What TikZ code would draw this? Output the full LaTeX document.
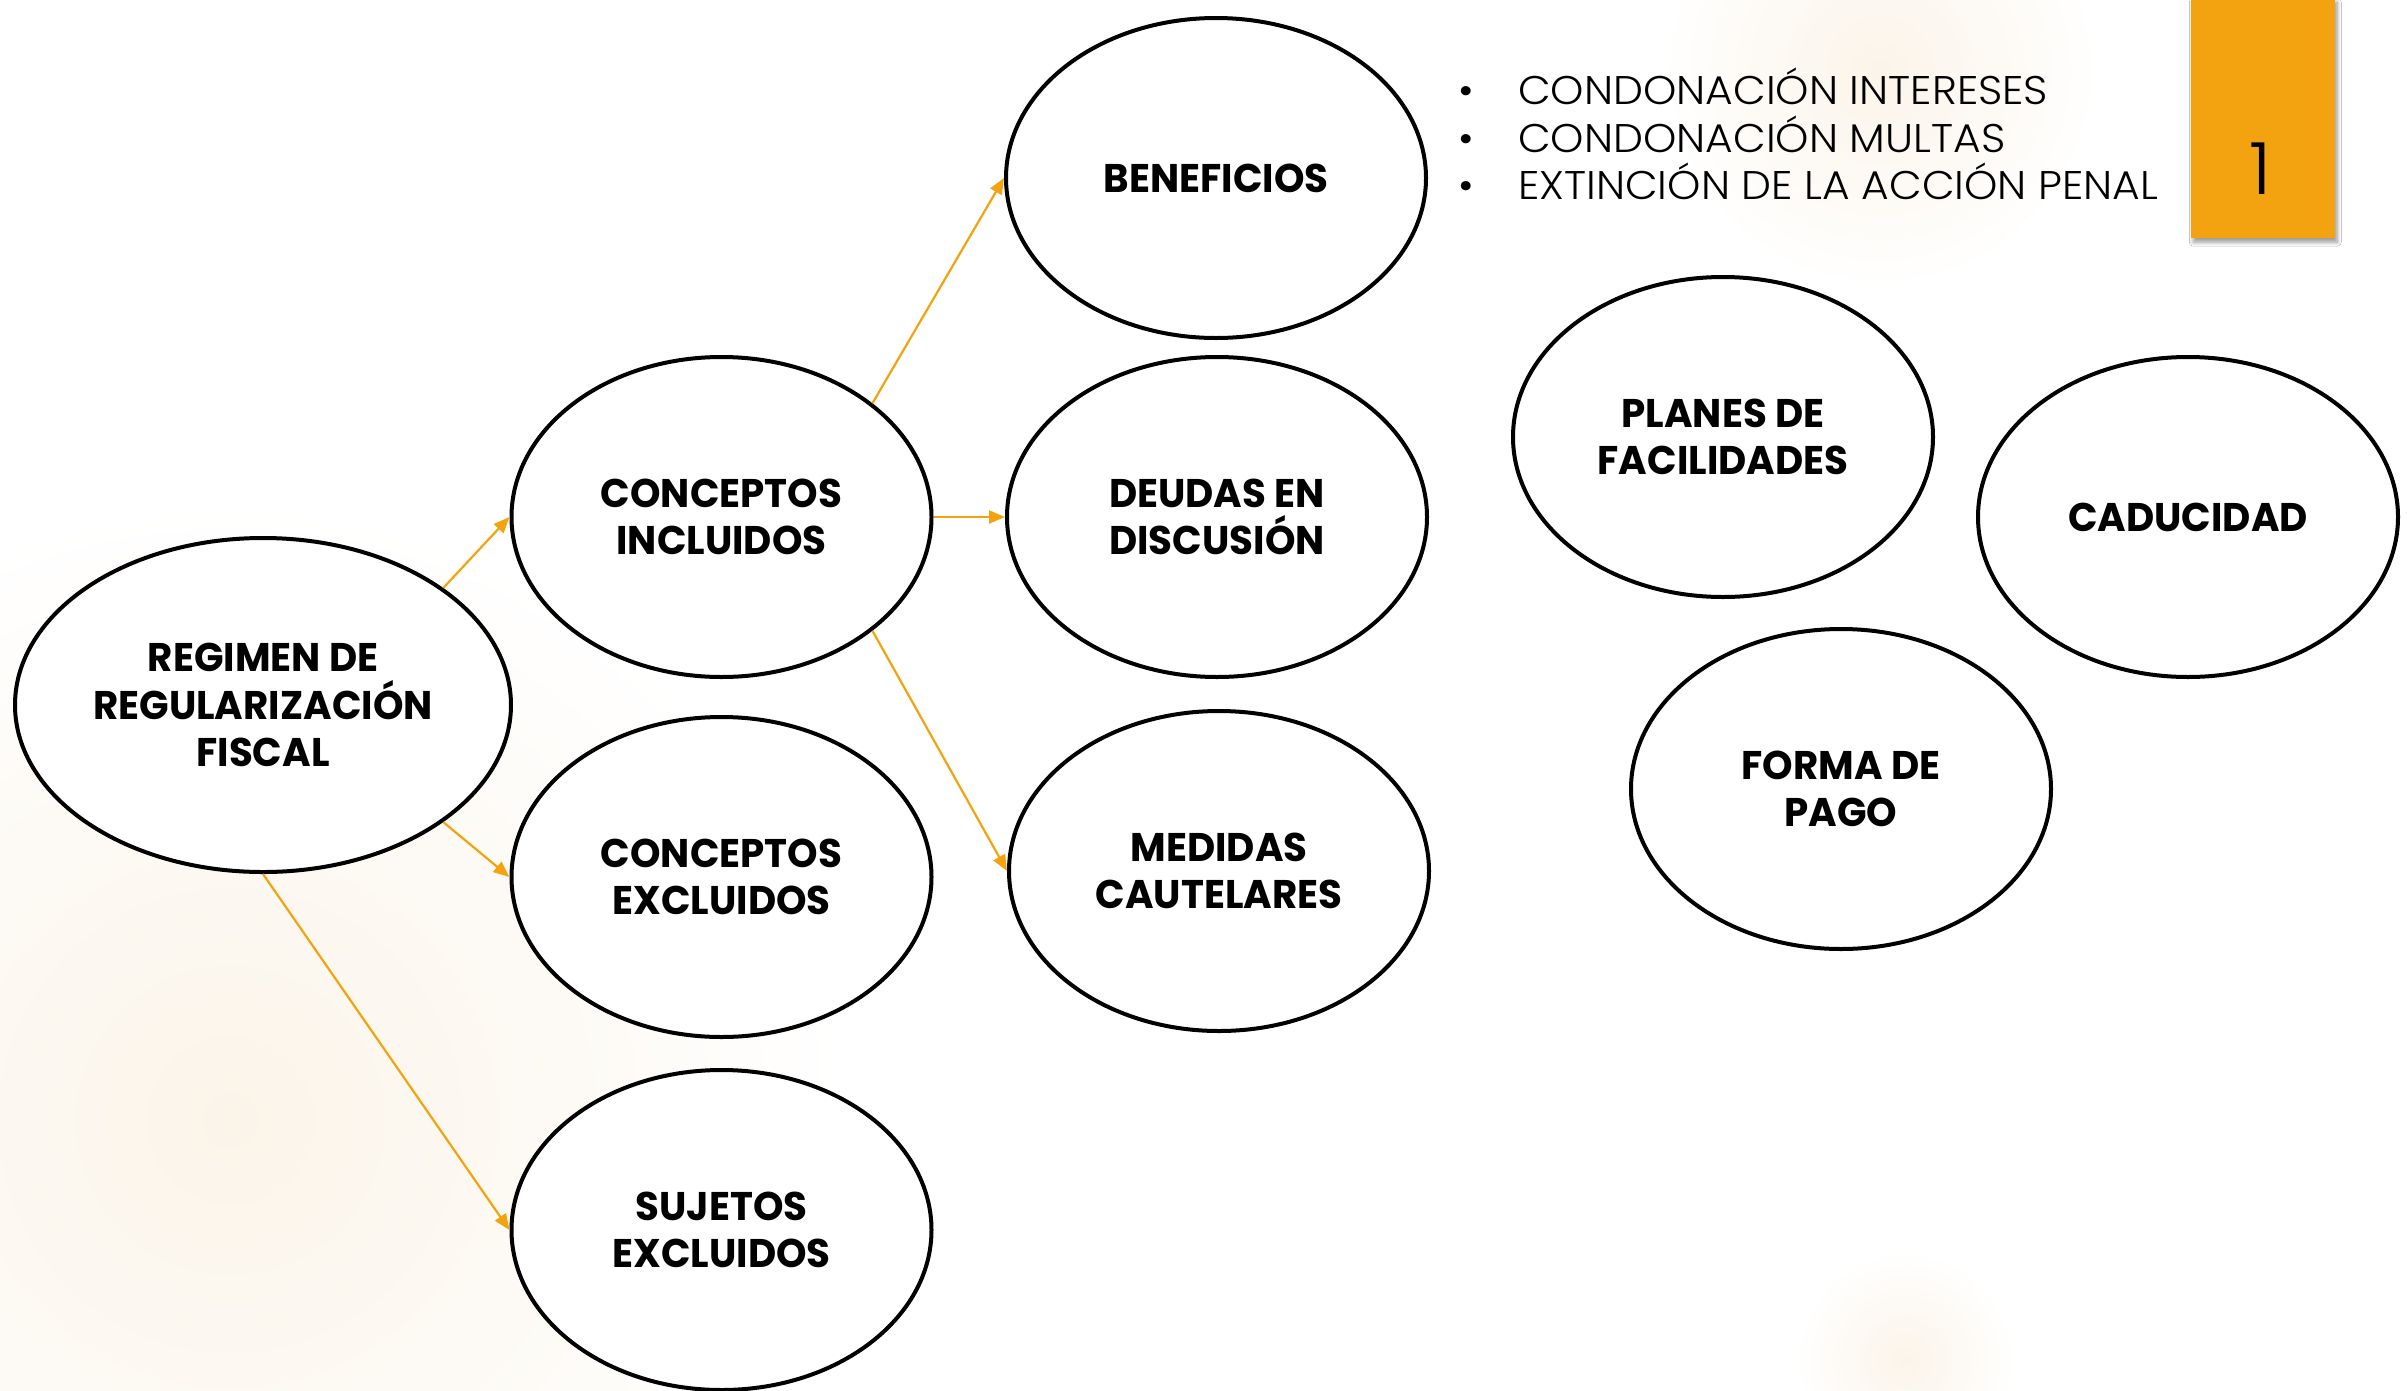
\documentclass[tikz,border=0pt]{standalone}
\usepackage{fontspec}
\setmainfont{Poppins}
\newfontfamily\boldf[FakeStretch=0.97]{Poppins Bold}
\newfontfamily\lightf[FakeStretch=1.06]{Poppins Light}
\usetikzlibrary{shapes.geometric,arrows.meta,shadows.blur}
\definecolor{orng}{HTML}{F3A30F}
\definecolor{glow}{HTML}{FBF4E9}
\begin{document}
\begin{tikzpicture}[x=1pt,y=1pt,
  bub/.style={ellipse, draw=black, line width=4pt, fill=white, inner sep=0pt,
    minimum width=420pt, minimum height=320pt, align=center,
    font=\boldf\fontsize{40}{47.6}\selectfont},
  conn/.style={draw=orng, line width=2.2pt, -{Triangle[length=16pt,width=13pt]}},
  bul/.style={font=\lightf\fontsize{40}{47.6}\selectfont}]
\useasboundingbox (0,0) rectangle (2407,-1390);
\fill[white] (0,0) rectangle (2407,-1390);
\begin{scope}
\clip (0,0) rectangle (2407,-1390);
\shade[inner color=glow, outer color=white] (230,-1120) circle (620);
\shade[inner color=glow, outer color=white] (1880,-70) circle (220);
\shade[inner color=glow, outer color=white] (1905,-1360) circle (110);
\end{scope}

\node[bub, minimum width=496pt, minimum height=334pt] (reg) at (263,-705) {REGIMEN DE\\REGULARIZACIÓN\\FISCAL};
\node[bub] (ci) at (721.5,-517) {CONCEPTOS\\INCLUIDOS};
\node[bub] (ce) at (721.5,-877) {CONCEPTOS\\EXCLUIDOS};
\node[bub] (se) at (721.5,-1230) {SUJETOS\\EXCLUIDOS};
\node[bub] (ben) at (1216,-178) {BENEFICIOS};
\node[bub] (deu) at (1217,-517) {DEUDAS EN\\DISCUSIÓN};
\node[bub] (med) at (1219,-871) {MEDIDAS\\CAUTELARES};
\node[bub] (pla) at (1723,-437) {PLANES DE\\FACILIDADES};
\node[bub] (cad) at (2188,-517) {CADUCIDAD};
\node[bub] (for) at (1841,-789) {FORMA DE\\PAGO};

\draw[conn] (reg.33.6) -- (ci.west);
\draw[conn] (reg.-33.8) -- (ce.west);
\draw[conn] (reg.south) -- (se.west);
\draw[conn] (ci.37) -- (ben.west);
\draw[conn] (ci.east) -- (deu.west);
\draw[conn] (ci.-37) -- (med.west);

\node[bul, anchor=base] (d1) at (1466,-104.5) {•};
\node[bul, anchor=base] (d2) at (1466,-152.5) {•};
\node[bul, anchor=base] (d3) at (1466,-199.5) {•};
\node[bul, anchor=base west, inner sep=0pt] (t1) at (1518,-104.5) {CONDONACIÓN INTERESES};
\node[bul, anchor=base west, inner sep=0pt] (t2) at (1518,-152.5) {CONDONACIÓN MULTAS};
\node[bul, anchor=base west, inner sep=0pt] (t3) at (1518,-199.5) {EXTINCIÓN DE LA ACCIÓN PENAL};

\node[fill=orng, minimum width=144pt, minimum height=240pt, anchor=north west, inner sep=0pt,
  blur shadow={shadow xshift=2pt, shadow yshift=-4pt, shadow blur steps=6, shadow blur radius=4pt}] (box) at (2191,2) {};
\node[font=\lightf\fontsize{72}{72}\selectfont, inner sep=0pt] (one) at (2261,-169) {1};
\end{tikzpicture}
\end{document}
